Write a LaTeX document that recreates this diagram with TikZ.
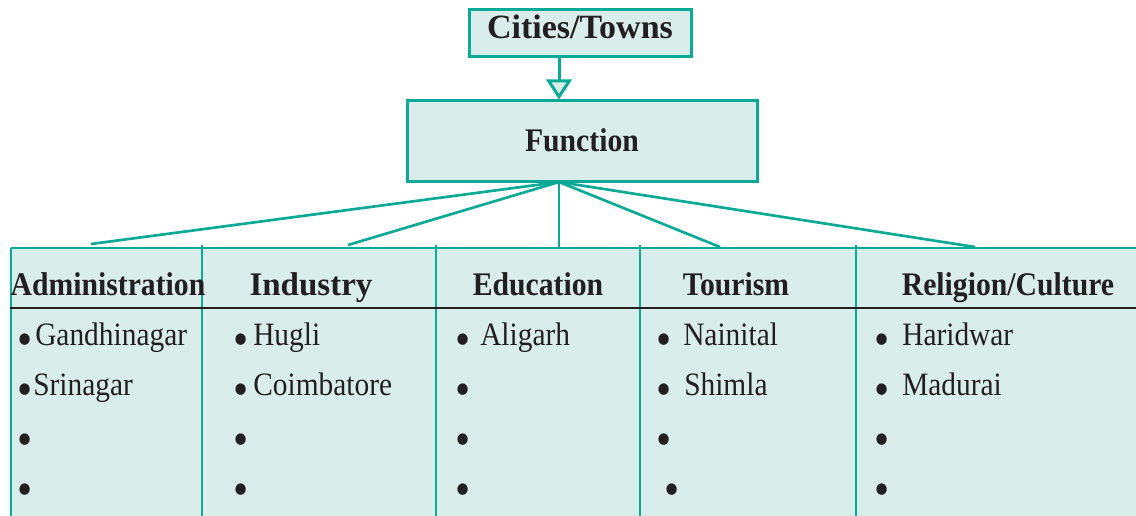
\documentclass[tikz,border=0pt]{standalone}
\usepackage{fontspec}
\setmainfont{Liberation Serif}[FakeStretch=0.9]
\newfontfamily\widefont{Liberation Serif}
\usetikzlibrary{arrows.meta}
\definecolor{tealline}{RGB}{10,170,150}
\definecolor{boxfill}{RGB}{217,238,235}
\definecolor{ink}{RGB}{35,31,32}
\begin{document}
\begin{tikzpicture}[x=0.75pt,y=-0.75pt,
  box/.style={draw=tealline,fill=boxfill,line width=2.25pt,inner sep=0pt,text=ink},
  conn/.style={draw=tealline,line width=2pt},
  rule/.style={draw=tealline,line width=2pt},
  head/.style={anchor=base,text=ink,inner sep=0pt,font=\fontsize{24.75}{28}\selectfont\bfseries},
  item/.style={anchor=base west,text=ink,inner sep=0pt,font=\fontsize{24.5}{28}\selectfont},
  bul/.style={anchor=center,text=ink,inner sep=0pt,font=\fontsize{36}{40}\selectfont}]
\useasboundingbox (0,0) rectangle (1136,516);
% table background
\fill[boxfill] (11,248) rectangle (1145,525);
\draw[rule] (11,248) -- (1145,248);
\draw[rule] (11,248) -- (11,525);
\foreach \cx in {202,436,640,856} \draw[rule] (\cx,245) -- (\cx,525);
\draw[ink,line width=2.1pt] (10,308) -- (1145,308);
% top boxes
\node[box,minimum width=222*0.75pt,text height=21.75pt,text depth=13.5pt,
  font=\widefont\fontsize{25.5}{30}\selectfont\bfseries] (cities) at (580,33.5) {Cities/Towns};
\node[box,minimum width=350*0.75pt,text height=38pt,text depth=22.75pt,
  font=\fontsize{24.75}{28}\selectfont\bfseries] (function) at (582,141.5) {Function};
\coordinate (hub) at (559,182);
\draw[conn,line width=2.25pt,-{Triangle[length=15pt,width=19pt,fill=boxfill]}]
  (cities.south -| hub) -- (function.north -| hub);
% connector ends
\coordinate (eAdm) at (91,244);
\coordinate (eInd) at (348,245);
\coordinate (eEdu) at (559,248);
\coordinate (eTou) at (720,247);
\coordinate (eRel) at (975,247);
\foreach \e in {eAdm,eInd,eEdu,eTou,eRel} \draw[conn] (hub) -- (\e);
% headers
\node[head] (hAdm) at (108,296) {Administration};
\node[head,font=\widefont\fontsize{24.75}{28}\selectfont\bfseries] (hInd) at (311,296) {Industry};
\node[head] (hEdu) at (538,296) {Education};
\node[head] (hTou) at (736,296) {Tourism};
\node[head] (hRel) at (1008,296) {Religion/Culture};
% items
\node[bul] (b11) at (25,345) {•};
\node[bul] (b12) at (25,395) {•};
\node[bul] (b13) at (25,445) {•};
\node[bul] (b14) at (25,495) {•};
\node[item] (t11) at (35,346) {Gandhinagar};
\node[item] (t12) at (33,396) {Srinagar};
\node[bul] (b21) at (241,345) {•};
\node[bul] (b22) at (241,395) {•};
\node[bul] (b23) at (241,445) {•};
\node[bul] (b24) at (241,495) {•};
\node[item] (t21) at (253,346) {Hugli};
\node[item] (t22) at (253,396) {Coimbatore};
\node[bul] (b31) at (463,345) {•};
\node[bul] (b32) at (463,395) {•};
\node[bul] (b33) at (463,445) {•};
\node[bul] (b34) at (463,495) {•};
\node[item] (t31) at (480,346) {Aligarh};
\node[bul] (b41) at (664,345) {•};
\node[bul] (b42) at (664,395) {•};
\node[bul] (b43) at (664,445) {•};
\node[bul] (b44) at (672,495) {•};
\node[item] (t41) at (683,346) {Nainital};
\node[item] (t42) at (684,396) {Shimla};
\node[bul] (b51) at (882,345) {•};
\node[bul] (b52) at (882,395) {•};
\node[bul] (b53) at (882,445) {•};
\node[bul] (b54) at (882,495) {•};
\node[item] (t51) at (902,346) {Haridwar};
\node[item] (t52) at (902,396) {Madurai};
\end{tikzpicture}
\end{document}
